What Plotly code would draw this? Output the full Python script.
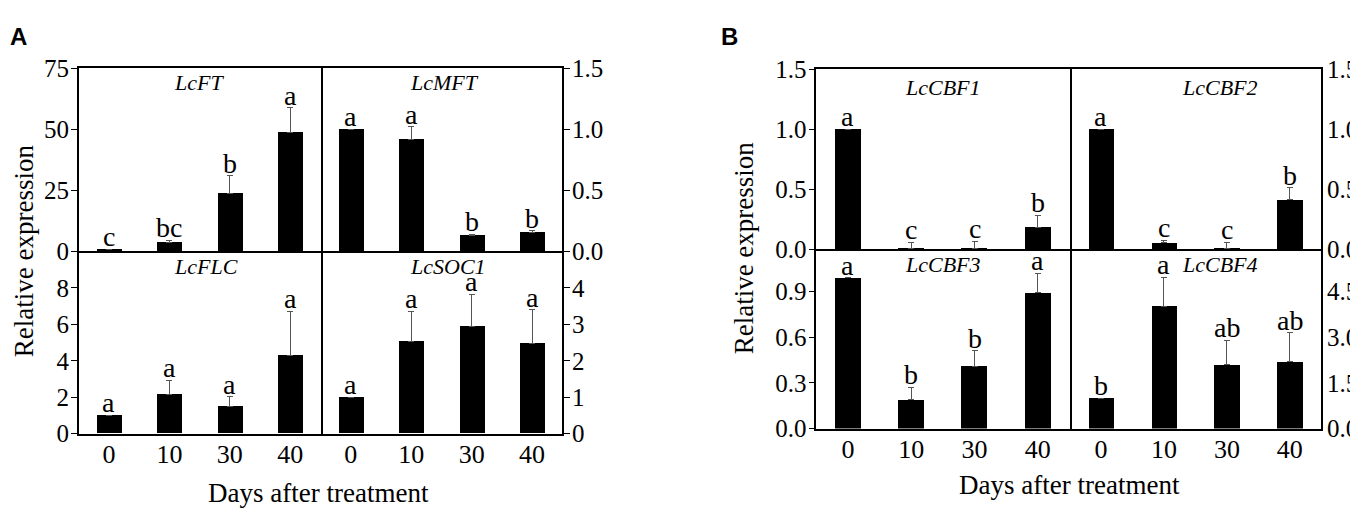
import plotly.graph_objects as go

W, H = 1358, 512

days = ["0", "10", "30", "40"]

# panel A
ft = [1.0, 3.6, 23.9, 48.6]
ft_err = [0.0, 0.9, 7.1, 10.2]
ft_sig = ["c", "bc", "b", "a"]

mft = [1.0, 0.92, 0.13, 0.155]
mft_err = [0.0, 0.10, 0.01, 0.015]
mft_sig = ["a", "a", "b", "b"]

flc = [1.0, 2.16, 1.5, 4.28]
flc_err = [0.0, 0.77, 0.54, 2.43]
flc_sig = ["a", "a", "a", "a"]

soc1 = [1.0, 2.53, 2.94, 2.47]
soc1_err = [0.0, 0.83, 0.89, 0.93]
soc1_sig = ["a", "a", "a", "a"]

# panel B
cbf1 = [1.0, 0.003, 0.003, 0.18]
cbf1_err = [0.0, 0.055, 0.06, 0.10]
cbf1_sig = ["a", "c", "c", "b"]

cbf2 = [1.0, 0.053, 0.005, 0.41]
cbf2_err = [0.0, 0.021, 0.05, 0.10]
cbf2_sig = ["a", "c", "c", "b"]

cbf3 = [0.99, 0.19, 0.41, 0.89]
cbf3_err = [0.0, 0.08, 0.10, 0.13]
cbf3_sig = ["a", "b", "b", "a"]

cbf4 = [1.0, 4.01, 2.10, 2.19]
cbf4_err = [0.0, 0.96, 0.79, 0.96]
cbf4_sig = ["b", "a", "ab", "ab"]

SERIF = "Liberation Serif"
SANS = "Liberation Sans"


def fx(p):
    return p / W


def fy(p):
    return 1 - p / H


# (name, values, errors, letters, x px span, y px span, y range, ticks, side, bottom row, label pos, tick marks)
panels = [
    ("LcFT", ft, ft_err, ft_sig, (70.7, 312.5), (50, 243.3), [0, 75], [0, 25, 50, 75], "left", False, (190.8, 65), True),
    ("LcMFT", mft, mft_err, mft_sig, (312.5, 554.3), (50, 243.3), [0, 1.5], [0, 0.5, 1.0, 1.5], "right", False, (436.7, 65), True),
    ("LcFLC", flc, flc_err, flc_sig, (70.7, 312.5), (243.3, 435.7), [0, 10], [0, 2, 4, 6, 8], "left", True, (198, 259), True),
    ("LcSOC1", soc1, soc1_err, soc1_sig, (312.5, 554.3), (243.3, 435.7), [0, 5], [0, 1, 2, 3, 4], "right", True, (440, 259), True),
    ("LcCBF1", cbf1, cbf1_err, cbf1_sig, (808.3, 1061.5), (50.7, 240.7), [0, 1.5], [0, 0.5, 1.0, 1.5], "left", False, (935, 70), True),
    ("LcCBF2", cbf2, cbf2_err, cbf2_sig, (1061.5, 1313.3), (50.7, 240.7), [0, 1.5], [0, 0.5, 1.0, 1.5], "right", False, (1212, 70), False),
    ("LcCBF3", cbf3, cbf3_err, cbf3_sig, (808.3, 1061.5), (240.7, 430.3), [0, 1.178], [0, 0.3, 0.6, 0.9], "left", True, (935, 257.5), True),
    ("LcCBF4", cbf4, cbf4_err, cbf4_sig, (1061.5, 1313.3), (240.7, 430.3), [0, 5.89], [0, 1.5, 3.0, 4.5], "right", True, (1212, 257.5), False),
]

fig = go.Figure()
annotations = []
layout = {}

for i, (name, vals, errs, sig, xs, ys, yr, tv, side, bottom, lab, marks) in enumerate(panels, start=1):
    xa = "x" if i == 1 else f"x{i}"
    ya = "y" if i == 1 else f"y{i}"
    fig.add_trace(go.Bar(
        x=days, y=vals, xaxis=xa, yaxis=ya, width=0.41,
        marker=dict(color="black", line=dict(width=0)),
        error_y=dict(type="data", array=errs, arrayminus=[0] * 4, symmetric=False,
                     color="#555555", thickness=1, width=3),
        showlegend=False,
    ))
    fmt = "d" if all(float(t).is_integer() for t in tv) and tv[-1] > 2 else ".1f"
    layout["xaxis" if i == 1 else f"xaxis{i}"] = dict(
        domain=[fx(xs[0]), fx(xs[1])], anchor=ya, type="category",
        categoryorder="array", categoryarray=days, range=[-0.5, 3.5],
        showline=True, mirror=not bottom, linecolor="black", linewidth=1.5,
        showgrid=False, ticks="", showticklabels=bottom, ticklabelstandoff=-4,
        tickfont=dict(family=SERIF, size=26, color="black"),
    )
    layout["yaxis" if i == 1 else f"yaxis{i}"] = dict(
        domain=[fy(ys[1]), fy(ys[0])], anchor=xa, range=yr, side=side,
        tickvals=tv, tickformat=fmt, ticks="outside", ticklen=6, tickwidth=1.2,
        tickcolor="black" if marks else "rgba(0,0,0,0)",
        showline=True, mirror=(side == "left"), linecolor="black",
        linewidth=1.5, showgrid=False, zeroline=False,
        ticklabelstandoff=-3 if marks else -7,
        tickfont=dict(family=SERIF, size=25, color="black"),
    )
    # gene name
    annotations.append(dict(
        x=fx(lab[0]), y=fy(lab[1]), xref="paper", yref="paper", text=f"<i>{name}</i>",
        showarrow=False, xanchor="center", yanchor="middle",
        font=dict(family=SERIF, size=22, color="black"),
    ))
    # significance letters (x given by category index)
    for k, (v, e, s) in enumerate(zip(vals, errs, sig)):
        annotations.append(dict(
            x=k, y=v + e, xref=xa, yref=ya, text=s, showarrow=False,
            xanchor="center", yanchor="bottom", yshift=-5,
            font=dict(family=SERIF, size=28, color="black"),
        ))

# axis titles and panel letters
for px_x, px_y in [(310, 498), (1061, 490)]:
    annotations.append(dict(
        x=fx(px_x), y=fy(px_y), xref="paper", yref="paper", text="Days after treatment",
        showarrow=False, xanchor="center", yanchor="middle",
        font=dict(family=SERIF, size=27, color="black"),
    ))
for px_x, px_y in [(16, 243), (736, 240)]:
    annotations.append(dict(
        x=fx(px_x), y=fy(px_y), xref="paper", yref="paper", text="Relative expression",
        showarrow=False, xanchor="center", yanchor="middle", textangle=-90,
        font=dict(family=SERIF, size=27, color="black"),
    ))
for txt, px_x, px_y in [("A", 10, 16), ("B", 721, 16)]:
    annotations.append(dict(
        x=fx(px_x), y=fy(px_y), xref="paper", yref="paper", text=f"<b>{txt}</b>",
        showarrow=False, xanchor="center", yanchor="middle",
        font=dict(family=SANS, size=24, color="black"),
    ))

fig.update_layout(
    width=W, height=H, margin=dict(l=0, r=0, t=0, b=0),
    font=dict(family=SERIF, size=25, color="black"),
    plot_bgcolor="white", paper_bgcolor="white", bargap=0,
    annotations=annotations, **layout,
)

fig.write_html("out.html")
